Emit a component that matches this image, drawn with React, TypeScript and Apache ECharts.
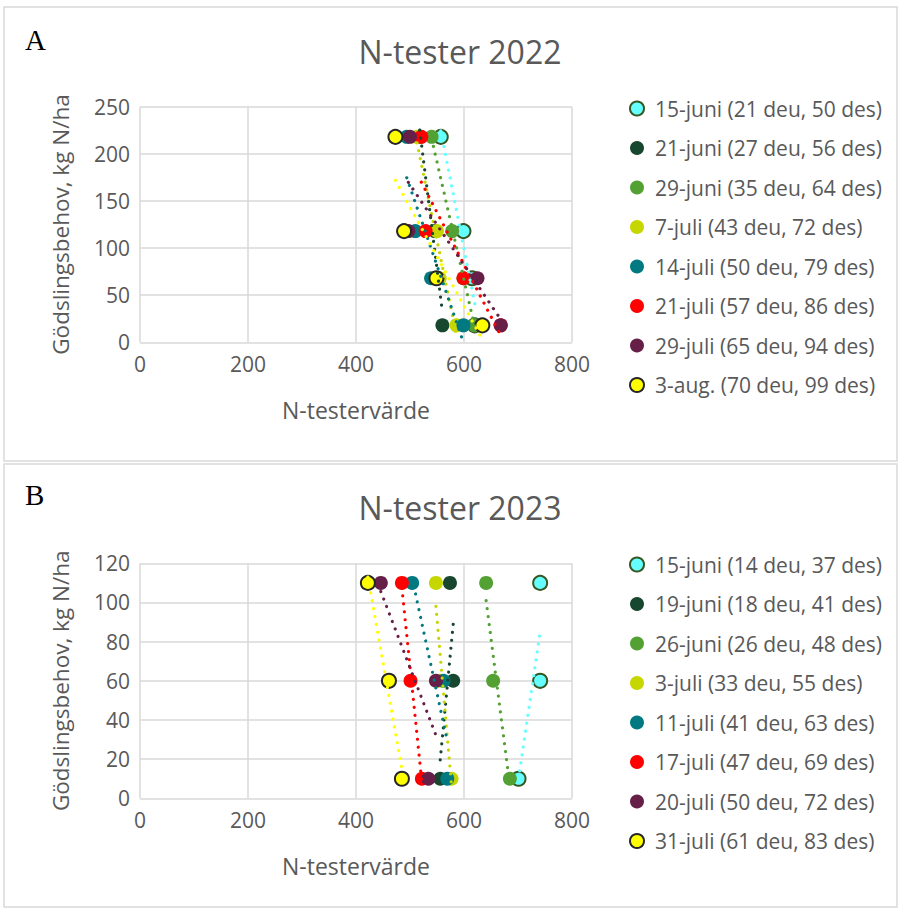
import React, { useEffect, useRef } from "react";
import * as echarts from "echarts";

// Fertiliser-need levels (kg N/ha) at which the N-tester readings were taken
const levelsA = [218, 118, 68, 18];
const levelsB = [110, 60, 10];

// Axis ticks
const xTicks = { min: 0, max: 800, interval: 200 };
const yTicksA = { min: 0, max: 250, interval: 50 };
const yTicksB = { min: 0, max: 120, interval: 20 };

// 2022 measurement dates
const namesA = [
  "15-juni (21 deu, 50 des)",
  "21-juni (27 deu, 56 des)",
  "29-juni (35 deu, 64 des)",
  "7-juli (43 deu, 72 des)",
  "14-juli (50 deu, 79 des)",
  "21-juli (57 deu, 86 des)",
  "29-juli (65 deu, 94 des)",
  "3-aug. (70 deu, 99 des)",
];

// 2022 N-tester values, one per level in levelsA
const juni15A = [557, 599, 615, 620];
const juni21A = [518, 546, 552, 560];
const juni29A = [540, 578, 599, 620];
const juli7A = [513, 550, 555, 586];
const juli14A = [494, 510, 539, 599];
const juli21A = [521, 529, 599, 668];
const juli29A = [500, 497, 625, 668];
const aug3A = [473, 489, 549, 634];

// 2023 measurement dates
const namesB = [
  "15-juni (14 deu, 37 des)",
  "19-juni (18 deu, 41 des)",
  "26-juni (26 deu, 48 des)",
  "3-juli (33 deu, 55 des)",
  "11-juli (41 deu, 63 des)",
  "17-juli (47 deu, 69 des)",
  "20-juli (50 deu, 72 des)",
  "31-juli (61 deu, 83 des)",
];

// 2023 N-tester values, one per level in levelsB
const juni15B = [741, 741, 701];
const juni19B = [574, 580, 556];
const juni26B = [641, 654, 685];
const juli3B = [548, 555, 577];
const juli11B = [504, 562, 569];
const juli17B = [485, 501, 522];
const juli20B = [446, 548, 534];
const juli31B = [422, 461, 485];

const valuesA = [juni15A, juni21A, juni29A, juli7A, juli14A, juli21A, juli29A, aug3A];
const valuesB = [juni15B, juni19B, juni26B, juli3B, juli11B, juli17B, juli20B, juli31B];

const fills = ["#66FFFF", "#17472F", "#53A033", "#C6D600", "#007A80", "#FF0000", "#661F46", "#FFFF00"];
const borders = ["#375623", "", "", "", "", "", "", "#262626"];

const FONT = "'Open Sans', sans-serif";
const TEXT = "#595959";
const GRIDLINE = "#D9D9D9";

// Least-squares line y = a + b·x drawn across the range of x values
function trendEnds(xs: number[], ys: number[]): number[][] {
  const n = xs.length;
  const mx = xs.reduce((s, v) => s + v, 0) / n;
  const my = ys.reduce((s, v) => s + v, 0) / n;
  let sxy = 0;
  let sxx = 0;
  for (let i = 0; i < n; i++) {
    sxy += (xs[i] - mx) * (ys[i] - my);
    sxx += (xs[i] - mx) * (xs[i] - mx);
  }
  const b = sxy / sxx;
  const a = my - b * mx;
  const x0 = Math.min(...xs);
  const x1 = Math.max(...xs);
  return [
    [x0, a + b * x0],
    [x1, a + b * x1],
  ];
}

function panelSeries(names: string[], values: number[][], levels: number[], idx: number) {
  const scatters = names.map((name, i) => ({
    name,
    type: "scatter",
    xAxisIndex: idx,
    yAxisIndex: idx,
    symbol: "circle",
    symbolSize: 14,
    z: 2,
    itemStyle: {
      color: fills[i],
      borderColor: borders[i] || fills[i],
      borderWidth: borders[i] ? 2 : 0,
      opacity: 1,
    },
    emphasis: { disabled: true },
    data: values[i].map((x, j) => [x, levels[j]]),
  }));
  const trends = names.map((name, i) => ({
    name: "trend " + name,
    type: "line",
    xAxisIndex: idx,
    yAxisIndex: idx,
    symbol: "none",
    z: 3,
    silent: true,
    lineStyle: { color: fills[i], width: 3.2, type: [0.01, 8], cap: "round" },
    data: trendEnds(values[i], levels),
  }));
  return [...scatters, ...trends];
}

function xAxis(idx: number) {
  return {
    type: "value",
    gridIndex: idx,
    ...xTicks,
    name: "N-testervärde",
    nameLocation: "middle",
    nameGap: 56,
    nameTextStyle: { color: TEXT, fontSize: 23, fontFamily: FONT },
    axisLine: { show: false },
    axisTick: { show: false },
    axisLabel: { color: TEXT, fontSize: 21, fontFamily: FONT, margin: 11 },
    splitLine: { show: true, lineStyle: { color: GRIDLINE, width: 1.5 } },
  };
}

function yAxis(idx: number, ticks: { min: number; max: number; interval: number }) {
  return {
    type: "value",
    gridIndex: idx,
    ...ticks,
    name: "Gödslingsbehov, kg N/ha",
    nameLocation: "middle",
    nameRotate: 90,
    nameGap: 68,
    nameTextStyle: { color: TEXT, fontSize: 22.5, fontFamily: FONT },
    axisLine: { show: false },
    axisTick: { show: false },
    axisLabel: { color: TEXT, fontSize: 21, fontFamily: FONT, margin: 10 },
    splitLine: { show: true, lineStyle: { color: GRIDLINE, width: 1.5 } },
  };
}

function legend(names: string[], top: number) {
  return {
    data: names.map((n) => ({ name: n, icon: "circle" })),
    orient: "vertical",
    left: 624,
    top,
    itemWidth: 26,
    itemHeight: 14,
    itemGap: 18.5,
    selectedMode: false,
    textStyle: { color: TEXT, fontSize: 21, fontFamily: FONT, lineHeight: 20 },
  };
}

function label(text: string, x: number, y: number, size: number, family: string, color: string, align = "left") {
  return {
    type: "text",
    x,
    y,
    silent: true,
    style: {
      text,
      fill: color,
      fontSize: size,
      fontFamily: family,
      textAlign: align,
      align,
      textVerticalAlign: "middle",
      verticalAlign: "middle",
    },
  };
}

export default function App() {
  const ref = useRef<HTMLDivElement>(null);

  useEffect(() => {
    if (!ref.current) return;
    const chart = echarts.init(ref.current, undefined, { renderer: "svg" });
    chart.setOption({
      animation: false,
      backgroundColor: "#FFFFFF",
      grid: [
        { left: 140, top: 106.7, width: 432, height: 235.6 },
        { left: 140, top: 563.3, width: 432, height: 235 },
      ],
      xAxis: [xAxis(0), xAxis(1)],
      yAxis: [yAxis(0, yTicksA), yAxis(1, yTicksB)],
      legend: [legend(namesA, 93), legend(namesB, 549)],
      series: [
        ...panelSeries(namesA, valuesA, levelsA, 0),
        ...panelSeries(namesB, valuesB, levelsB, 1),
      ],
      graphic: [
        {
          type: "rect",
          silent: true,
          shape: { x: 4, y: 7, width: 893, height: 454 },
          style: { fill: "none", stroke: GRIDLINE, lineWidth: 1.5 },
        },
        {
          type: "rect",
          silent: true,
          shape: { x: 4, y: 464, width: 893, height: 443 },
          style: { fill: "none", stroke: GRIDLINE, lineWidth: 1.5 },
        },
        label("A", 25, 40, 29, "'Liberation Serif', serif", "#000000"),
        label("B", 25, 495, 29, "'Liberation Serif', serif", "#000000"),
        label("N-tester 2022", 460, 51, 32, FONT, TEXT, "center"),
        label("N-tester 2023", 460, 507, 32, FONT, TEXT, "center"),
      ],
    });
    return () => chart.dispose();
  }, []);

  return (
    <div
      ref={ref}
      style={{ position: "absolute", left: 0, top: 0, width: 901, height: 911 }}
    />
  );
}
